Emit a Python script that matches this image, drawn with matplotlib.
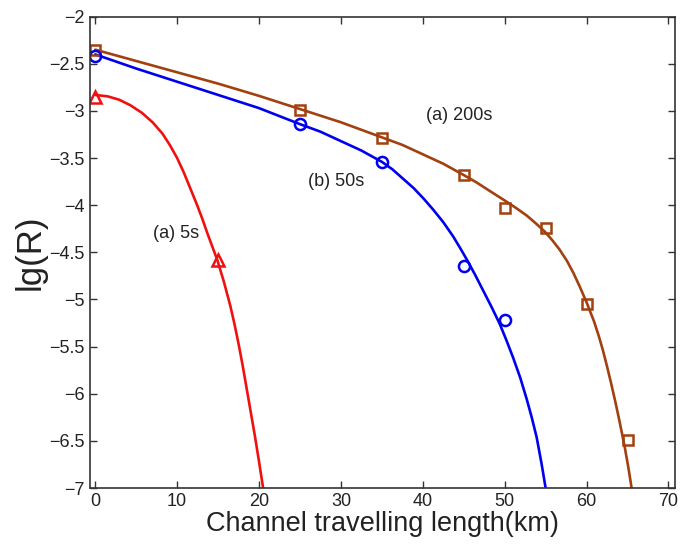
import numpy as np
import matplotlib
matplotlib.use('Agg')
import matplotlib.pyplot as plt

plt.rcParams['font.family'] = ['Liberation Sans', 'DejaVu Sans']

# measured points (markers)
x_200 = [0, 25, 35, 45, 50, 55, 60, 65]
y_200 = [-2.35, -2.99, -3.29, -3.68, -4.03, -4.24, -5.05, -6.49]
x_50 = [0, 25, 35, 45, 50]
y_50 = [-2.42, -3.14, -3.54, -4.64, -5.22]
x_5 = [0, 15]
y_5 = [-2.85, -4.58]

# fitted curves
fx_200 = [0, 5, 10, 15, 20, 25, 30, 35, 37.5, 40, 42.5, 45, 46.6, 48.2, 50,
          51.4, 52.7, 53.9, 54.9, 55.8, 56.7, 57.6, 58.4, 59.2, 60, 60.9, 61.5,
          62, 62.5, 63, 63.5, 63.97, 64.3, 64.67, 65.1, 65.5]
fy_200 = [-2.35, -2.47, -2.59, -2.71, -2.84, -2.98, -3.12, -3.28, -3.36, -3.46,
          -3.56, -3.68, -3.76, -3.85, -3.95, -4.03, -4.11, -4.20, -4.28, -4.37,
          -4.47, -4.59, -4.72, -4.87, -5.03, -5.23, -5.39, -5.54, -5.71, -5.89,
          -6.08, -6.27, -6.41, -6.57, -6.78, -7.0]
fx_50 = [0, 5, 10, 15, 20, 25, 27.5, 30, 32.5, 35, 36.3, 37.6, 38.9, 40.1,
         41.3, 42.5, 43.7, 44.6, 45.4, 46.4, 47.4, 48.4, 49.4, 50.2, 51.0,
         51.9, 52.7, 53.3, 53.9, 54.5, 55.0]
fy_50 = [-2.40, -2.55, -2.69, -2.83, -2.97, -3.14, -3.22, -3.32, -3.42, -3.54,
         -3.62, -3.72, -3.82, -3.93, -4.05, -4.18, -4.33, -4.46, -4.58, -4.74,
         -4.91, -5.08, -5.26, -5.43, -5.61, -5.83, -6.06, -6.25, -6.46, -6.74,
         -7.0]
fx_5 = [0, 1.5, 2.9, 4.3, 5.7, 7.0, 8.2, 9.1, 10.0, 10.8, 11.6, 12.4, 13.1,
        13.66, 14.3, 14.9, 15.7, 16.5, 17.0, 17.5, 18.0, 18.5, 19.0, 19.5,
        20.0, 20.5]
fy_5 = [-2.83, -2.845, -2.88, -2.94, -3.02, -3.12, -3.24, -3.36, -3.50, -3.65,
        -3.82, -3.99, -4.15, -4.29, -4.44, -4.58, -4.81, -5.07, -5.26, -5.47,
        -5.70, -5.95, -6.2, -6.45, -6.72, -7.0]

brown = '#A2400F'
blue = '#0000F0'
red = '#F01010'

fig = plt.figure(figsize=(6.85, 5.49), dpi=100)
ax = fig.add_axes([0.1307, 0.1111, 0.8547, 0.8585])

kw = dict(lw=1.9, solid_joinstyle='round', solid_capstyle='round')
ax.plot(fx_200, fy_200, color=brown, **kw)
ax.plot(fx_50, fy_50, color=blue, **kw)
ax.plot(fx_5, fy_5, color=red, **kw)
ax.plot(x_200, y_200, 's', color=brown, mfc='none', ms=7, mew=1.8)
ax.plot(x_50, y_50, 'o', color=blue, mfc='none', ms=8, mew=1.8)
ax.plot(x_5, y_5, '^', color=red, mfc='none', ms=9, mew=1.8)

ax.text(40.4, -3.05, '(a) 200s', fontsize=13, va='center', color='#222222')
ax.text(26.0, -3.75, '(b) 50s', fontsize=13, va='center', color='#222222')
ax.text(7.1, -4.30, '(a) 5s', fontsize=13, va='center', color='#222222')

ax.set_xlim(-0.7, 70.8)
ax.set_ylim(-7, -2)
ax.set_xticks(np.arange(0, 71, 10))
ax.set_yticks(np.arange(-7, -1.9, 0.5))
ax.set_yticklabels(['−7', '−6.5', '−6', '−5.5', '−5', '−4.5', '−4', '−3.5',
                    '−3', '−2.5', '−2'])
ax.tick_params(direction='in', top=True, right=True, labelsize=13,
               length=5, width=1, colors='#333333', labelcolor='#222222')
for s in ax.spines.values():
    s.set_color('#333333')
    s.set_linewidth(1.2)

ax.set_xlabel('Channel travelling length(km)', fontsize=19.5, color='#222222',
              labelpad=1)
ax.set_ylabel('lg(R)', fontsize=25, color='#222222', labelpad=2)

fig.savefig('out.png', dpi=100)
